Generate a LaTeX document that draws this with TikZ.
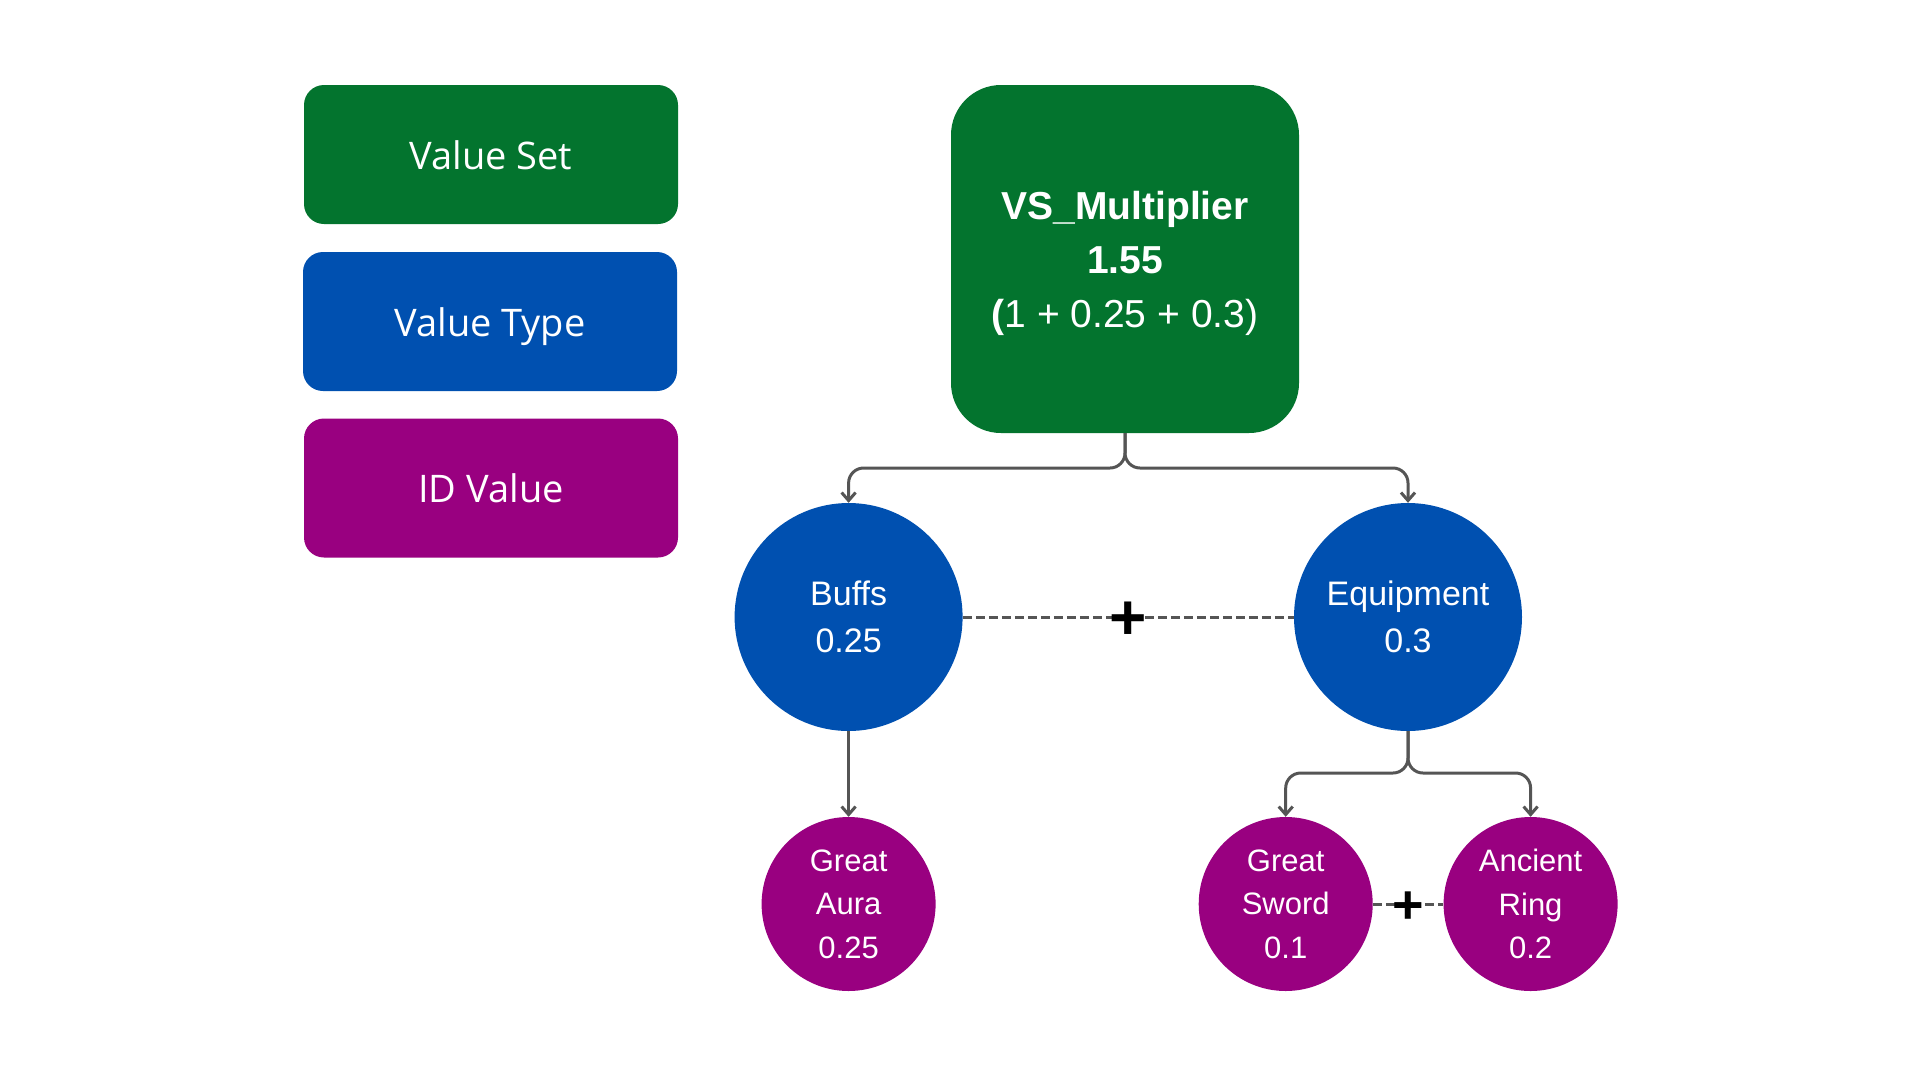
\documentclass[tikz,border=0pt]{standalone}
\usepackage{fontspec}
\setmainfont{Liberation Sans}
\newfontfamily\legendfont{Open Sans}
\usetikzlibrary{arrows.meta,calc}
\definecolor{vsgreen}{HTML}{03742E}
\definecolor{vtblue}{HTML}{0050B0}
\definecolor{idpurple}{HTML}{990080}
\definecolor{conngray}{HTML}{555555}
\begin{document}
\begin{tikzpicture}[x=1pt,y=-1pt,
  legend/.style={rectangle, rounded corners=20pt, minimum width=374pt, minimum height=139pt, inner sep=0pt, text height=29pt, text depth=0pt, text=white, font=\legendfont\fontsize{38}{46}\selectfont},
  mainbox/.style={rectangle, rounded corners=50pt, fill=vsgreen, minimum width=348pt, minimum height=348pt, inner sep=0pt},
  maintext/.style={inner sep=0pt, text=white, align=center, font=\fontsize{39}{54}\selectfont},
  vtcircle/.style={circle, fill=vtblue, minimum size=228pt, inner sep=0pt, text=white, align=center, font=\fontsize{34}{46.5}\selectfont},
  idcircle/.style={circle, fill=idpurple, minimum size=174pt, inner sep=0pt, text=white, align=center, font=\fontsize{31}{43.5}\selectfont},
  conn/.style={draw=conngray, line width=3pt, rounded corners=15pt, -{Straight Barb[length=8pt,width=14pt]}},
  dashline/.style={draw=conngray, line width=3pt, dash pattern=on 9pt off 4pt},
  plussign/.style={inner sep=0pt, text=black, font=\fontsize{#1}{#1}\bfseries\selectfont}]
\fill[white] (0,0) rectangle (1920,1080);
\useasboundingbox (0,0) rectangle (1920,1080);

% legend
\node[legend, fill=vsgreen] (lset) at (491,154.5) {Value Set};
\node[legend, fill=vtblue] (ltype) at (490,321.5) {Value Type};
\node[legend, fill=idpurple] (lid) at (491,488) {ID Value};

% main tree
\node[mainbox] (vs) at (1125,259) {};
\node[maintext] (vstext) at ($(vs.center)+(0,4)$) {\textbf{VS\_Multiplier}\\\textbf{1.55}\\\textbf{(}1 + 0.25 + 0.3)};
\node[vtcircle] (buffs) at (848.6,617) {Buffs\\0.25};
\node[vtcircle] (equip) at (1408,617) {Equipment\\0.3};
\node[idcircle] (aura) at (848.6,904) {Great\\Aura\\0.25};
\node[idcircle] (sword) at (1285.7,904) {Great\\Sword\\0.1};
\node[idcircle] (ring) at (1530.6,904) {Ancient\\Ring\\0.2};

\coordinate (fork1) at (1125,468);
\coordinate (fork2) at (1408,773);

\draw[conn] (vs.south) -- (fork1) -- (fork1 -| buffs) -- (buffs.north);
\draw[conn] (vs.south) -- (fork1) -- (fork1 -| equip) -- (equip.north);
\draw[conn] (buffs.south) -- (aura.north);
\draw[conn] (equip.south) -- (fork2) -- (fork2 -| sword) -- (sword.north);
\draw[conn] (equip.south) -- (fork2) -- (fork2 -| ring) -- (ring.north);

\draw[dashline] (buffs.east) -- (equip.west);
\draw[dashline] (sword.east) -- (ring.west);
\node[plussign=64] (plus1) at ($(buffs.east)!0.5!(equip.west)+(0,4)$) {+};
\node[plussign=54] (plus2) at ($(sword.east)!0.5!(ring.west)+(0,4)$) {+};
\end{tikzpicture}
\end{document}
